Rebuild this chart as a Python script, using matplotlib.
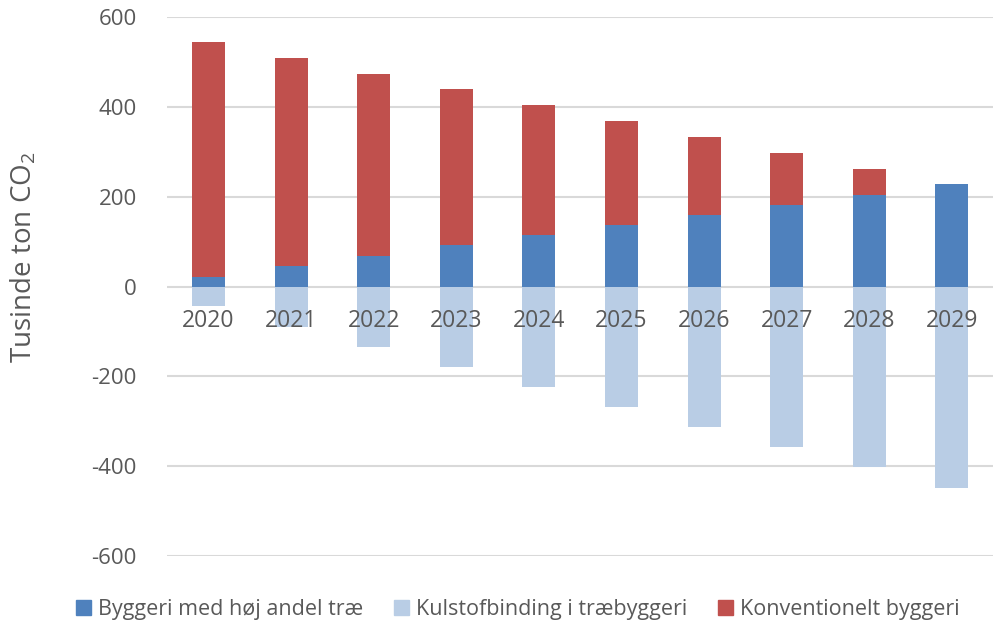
import matplotlib
matplotlib.use("Agg")
import matplotlib.pyplot as plt
from matplotlib.patches import Patch

plt.rcParams['font.family'] = ['Open Sans', 'DejaVu Sans']
plt.rcParams['mathtext.fontset'] = 'custom'
plt.rcParams['mathtext.rm'] = 'Open Sans'
plt.rcParams['mathtext.it'] = 'Open Sans'

years = ["2020", "2021", "2022", "2023", "2024", "2025", "2026", "2027", "2028", "2029"]
hoej_trae = [21, 45, 68, 92, 115, 137, 159, 181, 204, 228]
konventionelt = [523, 464, 405, 348, 289, 231, 174, 116, 58, 0]
kulstofbinding = [-43, -90, -135, -179, -224, -268, -313, -358, -402, -449]

c_blue = "#4F81BD"
c_light = "#B9CDE5"
c_red = "#C0504D"
txt = "#595959"

fig = plt.figure(figsize=(9.96, 6.32), dpi=100)
ax = fig.add_axes([0.168, 0.120, 0.829, 0.853])

x = list(range(len(years)))
w = 0.4
ax.bar(x, hoej_trae, width=w, color=c_blue, zorder=2, label="Byggeri med høj andel træ")
ax.bar(x, kulstofbinding, width=w, color=c_light, zorder=2, label="Kulstofbinding i træbyggeri")
ax.bar(x, konventionelt, width=w, bottom=hoej_trae, color=c_red, zorder=2, label="Konventionelt byggeri")

ax.set_ylim(-600, 600)
ax.set_xlim(-0.5, 9.5)
ax.set_yticks([-600, -400, -200, 0, 200, 400, 600])
ax.set_yticklabels(["-600", "-400", "-200", "0", "200", "400", "600"])
ax.tick_params(axis='y', length=0, labelsize=16, colors=txt, pad=22)
ax.set_xticks([])
ax.grid(axis='y', color="#d9d9d9", lw=1.5, zorder=0)
ax.set_axisbelow(True)
for s in ax.spines.values():
    s.set_visible(False)

for xi, lab in zip(x, years):
    ax.annotate(lab, xy=(xi, 0), xytext=(0, -16), textcoords='offset points',
                ha='center', va='top', fontsize=16.5, color=txt, zorder=5)

fig.text(0.024, 0.593, "Tusinde ton CO$_2$", rotation=90, ha='center', va='center',
         fontsize=20, color=txt)

handles = [Patch(color=c_blue), Patch(color=c_light), Patch(color=c_red)]
labels = ["Byggeri med høj andel træ", "Kulstofbinding i træbyggeri", "Konventionelt byggeri"]
leg = fig.legend(handles, labels, loc='center', bbox_to_anchor=(0.52, 0.035), ncol=3,
                 frameon=False, fontsize=15.5, handlelength=0.7, handleheight=0.7,
                 handletextpad=0.35, columnspacing=1.4)
for t in leg.get_texts():
    t.set_color(txt)

fig.savefig("out.png", dpi=100)
